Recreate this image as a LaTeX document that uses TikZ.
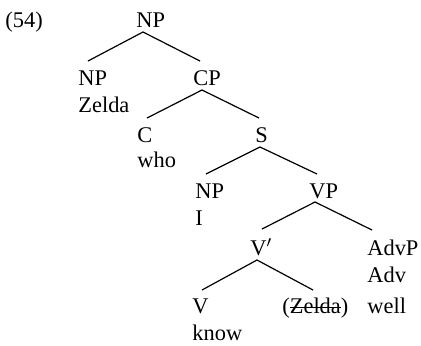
\documentclass[tikz,border=0pt]{standalone}
\usepackage{fontspec}
\setmainfont{Liberation Serif}
\usepackage{tikz}
\usetikzlibrary{calc}

\newcommand\strikeword[1]{\setbox0\hbox{#1}\rlap{\rule[0.5ex]{\wd0}{0.5pt}}\box0}

\tikzset{
  lbl/.style={anchor=base west, inner sep=0pt, font=\fontsize{11.2}{13}\selectfont},
  branch/.style={line width=0.6pt, black}
}

\begin{document}
\begin{tikzpicture}[x=0.5pt, y=-0.5pt]
  \useasboundingbox (0,0) rectangle (421,345);
  % labels
  \node[lbl] (ex) at (5,27) {(54)};
  \node[lbl] (np0) at (136,27) {NP};
  \node[lbl] (np1) at (78,85) {NP};
  \node[lbl] (zelda1) at (78,112) {Zelda};
  \node[lbl] (cp) at (193,85) {CP};
  \node[lbl] (c) at (137,142) {C};
  \node[lbl] (who) at (137,167) {who};
  \node[lbl] (s) at (255,142) {S};
  \node[lbl] (np2) at (195,198) {NP};
  \node[lbl] (i) at (195,225) {I};
  \node[lbl] (vp) at (309,198) {VP};
  \node[lbl] (vbar) at (250,255) {V$'$};
  \node[lbl] (advp) at (367,255) {AdvP};
  \node[lbl] (adv) at (367,282) {Adv};
  \node[lbl] (well) at (367,313) {well};
  \node[lbl] (v) at (192,313) {V};
  \node[lbl] (know) at (192,340) {know};
  \node[lbl] (zelda2) at (282,313) {(\strikeword{Zelda})};
  % branches
  \draw[branch] ($(np1.base west)+(10,-24)$) -- ($(np0.base west)+(7,5)$) -- ($(cp.base west)+(7,-24)$);
  \draw[branch] ($(c.base west)+(10,-24)$) -- ($(cp.base west)+(9,5)$) -- ($(s.base west)+(4,-24)$);
  \draw[branch] ($(np2.base west)+(11,-24)$) -- ($(s.base west)+(5,5)$) -- ($(vp.base west)+(8,-24)$);
  \draw[branch] ($(vbar.base west)+(12,-26)$) -- ($(vp.base west)+(6,4)$) -- ($(advp.base west)+(5,-25)$);
  \draw[branch] ($(v.base west)+(10,-23)$) -- ($(vbar.base west)+(7,5)$) -- ($(zelda2.base west)+(31,-23)$);
\end{tikzpicture}
\end{document}
